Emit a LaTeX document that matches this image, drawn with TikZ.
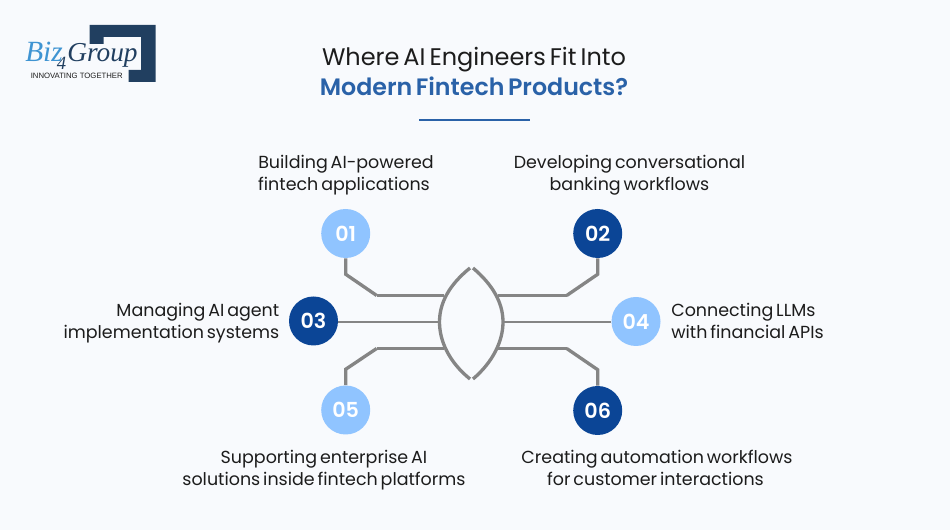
\documentclass[tikz,border=0pt]{standalone}
\usepackage{fontspec}
\setmainfont{Poppins}[WordSpace=0.62,BoldFont={Poppins SemiBold}]
\newfontfamily\logofont{Liberation Serif}
\newfontfamily\logosans{Liberation Sans}
\definecolor{bgc}{HTML}{F8FAFD}
\definecolor{darkb}{HTML}{0B4596}
\definecolor{lightb}{HTML}{90C4FF}
\definecolor{titleb}{HTML}{2A62A8}
\definecolor{linec}{HTML}{858585}
\definecolor{logob}{HTML}{213F60}
\definecolor{logol}{HTML}{3F94D2}
\definecolor{ink}{HTML}{1C1C1C}
\tikzset{
  x=0.75pt,y=-0.75pt,
  numdark/.style={circle,fill=darkb,minimum size=36.75pt,inner sep=0pt,text=white,font=\fontsize{15.5}{18}\selectfont\bfseries},
  numlight/.style={circle,fill=lightb,minimum size=36.75pt,inner sep=0pt,text=white,font=\fontsize{15.5}{18}\selectfont\bfseries},
  lbl/.style={inner sep=0pt,text=ink,font=\fontsize{13.1}{16.5}\selectfont,align=center,anchor=base},
  ttl/.style={inner sep=0pt,anchor=base,font=\fontsize{18}{22}\selectfont},
  wire/.style={draw=linec,line width=2.5pt,line join=miter},
  thinwire/.style={draw=linec,line width=2.2pt},
  stub/.style={draw=linec,line width=2.5pt}
}
\begin{document}
\begin{tikzpicture}
\useasboundingbox (0,0) rectangle (950,530);
\fill[bgc] (0,0) rectangle (950,530);
% logo
\fill[logob] (89.5,25) -- (155.5,25) -- (155.5,82) -- (128.5,82) -- (128.5,70) -- (141,70) -- (141,37) -- (103.5,37) -- (103.5,44) -- (89.5,44) -- cycle;
\node[inner sep=0pt,anchor=base west,text=logol,font=\logofont\itshape\fontsize{22}{24}\selectfont] (logoa) at (25,62) {Biz};
\node[inner sep=0pt,anchor=base west,text=logob,font=\logofont\itshape\fontsize{20.5}{24}\selectfont] (logob) at (67,62) {Group};
\node[inner sep=0pt,anchor=base west,text=logob,font=\logofont\itshape\fontsize{14}{24}\selectfont] (logoc) at (56.5,69.5) {4};
\node[inner sep=0pt,anchor=base west,text=ink,font=\logosans\fontsize{5.8}{7}\selectfont] (logotag) at (30.5,79) {INNOVATING TOGETHER};
% title
\node[ttl,text=ink] (t1) at (474,65.5) {Where AI Engineers Fit Into};
\node[ttl,text=titleb,font=\fontsize{17.8}{22}\selectfont\bfseries] (t2) at (474,95.5) {Modern Fintech Products?};
\coordinate (ra) at (419,120);
\coordinate (rb) at (530,120);
\draw[titleb,line width=1.1pt] (ra) -- (rb);
% circles
\node[numlight] (n1) at (345.7,233.5) {01};
\node[numdark] (n2) at (597.7,233.5) {02};
\node[numdark] (n3) at (313.5,321) {03};
\node[numlight] (n4) at (636,321.5) {04};
\node[numlight] (n5) at (345.7,410) {05};
\node[numdark] (n6) at (597.7,410.5) {06};
% lens
\coordinate (lt) at (470,268);
\coordinate (lb) at (470,379);
\coordinate (rt) at (473,268);
\coordinate (rb2) at (473,379);
\coordinate (lm) at (439.5,322);
\coordinate (rm) at (503,322);
\draw[wire] (lt) .. controls (449,285) and (439.5,303) .. (lm) .. controls (439.5,341) and (449,362) .. (lb);
\draw[wire] (rt) .. controls (493,285) and (503,303) .. (rm) .. controls (503,341) and (493,362) .. (rb2);
% connectors
\coordinate (a1) at (443.5,295.5);
\coordinate (a2) at (497.5,295.5);
\coordinate (a3) at (439.5,322);
\coordinate (a4) at (503,322);
\coordinate (a5) at (443.5,348.5);
\coordinate (a6) at (497.5,348.5);
\draw[stub] (n1.south) -- ++(0,16) coordinate (b1) -- (376.7,295.5);
\draw[stub] (n2.south) -- ++(0,16) coordinate (b2) -- (566.7,295.5);
\draw[stub] (n5.north) -- ++(0,-16) coordinate (b5) -- (376.7,348.5);
\draw[stub] (n6.north) -- ++(0,-16) coordinate (b6) -- (566.7,348.5);
\draw[thinwire] (376.7,295.5) -- (a1);
\draw[thinwire] (566.7,295.5) -- (a2);
\draw[thinwire] (n3.east |- a3) -- (a3);
\draw[thinwire] (n4.west |- a4) -- (a4);
\draw[thinwire] (376.7,348.5) -- (a5);
\draw[thinwire] (566.7,348.5) -- (a6);
% labels
\node[lbl] (l1a) at (346,169) {Building AI-powered};
\node[lbl] (l1b) at (344,191) {fintech applications};
\node[lbl] (l2a) at (629.5,169) {Developing conversational};
\node[lbl] (l2b) at (629.5,191) {banking workflows};
\node[lbl,anchor=base east] (l3a) at (279.5,316.5) {Managing AI agent};
\node[lbl,anchor=base east] (l3b) at (279.5,338.5) {implementation systems};
\node[lbl,anchor=base west] (l4a) at (671,316.5) {Connecting LLMs};
\node[lbl,anchor=base west] (l4b) at (671,338.5) {with financial APIs};
\node[lbl] (l5a) at (324,463.5) {Supporting enterprise AI};
\node[lbl] (l5b) at (324,485.5) {solutions inside fintech platforms};
\node[lbl] (l6a) at (657,463.5) {Creating automation workflows};
\node[lbl] (l6b) at (655.5,485.5) {for customer interactions};
\end{tikzpicture}
\end{document}
